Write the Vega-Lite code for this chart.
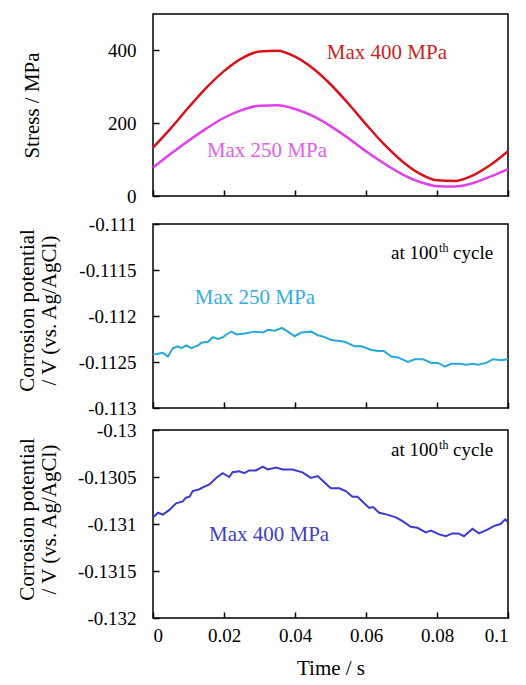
{
  "$schema": "https://vega.github.io/schema/vega-lite/v6.json",
  "background": "white",
  "padding": {"left": 15, "top": 13, "right": 5, "bottom": 5},
  "bounds": "flush",
  "spacing": 28,
  "config": {
    "font": "Times New Roman, Liberation Serif, serif",
    "text": {"font": "Times New Roman, Liberation Serif, serif"},
    "view": {"stroke": "black", "strokeWidth": 1.5},
    "axis": {
      "domain": false, "grid": false, "ticks": true, "tickColor": "black", "tickWidth": 1.5, "tickSize": -6,
      "labelFont": "Times New Roman, Liberation Serif, serif", "labelFontSize": 19, "labelColor": "black", "labelPadding": 23,
      "titleFont": "Times New Roman, Liberation Serif, serif", "titleFontSize": 21, "titleFontWeight": "normal", "titleColor": "black"
    },
    "axisBottom": {"labelPadding": 14}
  },
  "datasets": {
    "stress": [
      {"t":0,"v":133,"s":"400"},{"t":0.005,"v":186,"s":"400"},{"t":0.01,"v":243,"s":"400"},{"t":0.015,"v":297,"s":"400"},
      {"t":0.02,"v":343,"s":"400"},{"t":0.025,"v":378,"s":"400"},{"t":0.03,"v":397,"s":"400"},{"t":0.035,"v":399,"s":"400"},
      {"t":0.04,"v":383,"s":"400"},{"t":0.045,"v":351,"s":"400"},{"t":0.05,"v":307,"s":"400"},{"t":0.055,"v":254,"s":"400"},
      {"t":0.06,"v":197,"s":"400"},{"t":0.065,"v":143,"s":"400"},{"t":0.07,"v":97,"s":"400"},{"t":0.075,"v":62,"s":"400"},
      {"t":0.08,"v":43,"s":"400"},{"t":0.085,"v":41,"s":"400"},{"t":0.09,"v":56,"s":"400"},{"t":0.095,"v":85,"s":"400"},
      {"t":0.1,"v":123,"s":"400"},
      {"t":0,"v":78,"s":"250"},{"t":0.005,"v":116,"s":"250"},{"t":0.01,"v":152,"s":"250"},{"t":0.015,"v":185,"s":"250"},
      {"t":0.02,"v":215,"s":"250"},{"t":0.025,"v":236,"s":"250"},{"t":0.03,"v":248,"s":"250"},{"t":0.035,"v":249,"s":"250"},
      {"t":0.04,"v":239,"s":"250"},{"t":0.045,"v":220,"s":"250"},{"t":0.05,"v":192,"s":"250"},{"t":0.055,"v":159,"s":"250"},
      {"t":0.06,"v":123,"s":"250"},{"t":0.065,"v":90,"s":"250"},{"t":0.07,"v":61,"s":"250"},{"t":0.075,"v":39,"s":"250"},
      {"t":0.08,"v":27,"s":"250"},{"t":0.085,"v":26,"s":"250"},{"t":0.09,"v":35,"s":"250"},{"t":0.095,"v":53,"s":"250"},
      {"t":0.1,"v":74,"s":"250"}
    ],
    "cyan": [
      {"t":0,"v":-0.11242},{"t":0.0014,"v":-0.11241},{"t":0.0028,"v":-0.1124},{"t":0.0042,"v":-0.11244},{"t":0.0056,"v":-0.11235},
      {"t":0.007,"v":-0.11233},{"t":0.008,"v":-0.11235},{"t":0.0094,"v":-0.11232},{"t":0.0108,"v":-0.11235},{"t":0.0127,"v":-0.11232},
      {"t":0.0136,"v":-0.11229},{"t":0.0155,"v":-0.11228},{"t":0.0169,"v":-0.11223},{"t":0.0183,"v":-0.11225},{"t":0.0197,"v":-0.11223},
      {"t":0.0211,"v":-0.11219},{"t":0.0221,"v":-0.11217},{"t":0.0235,"v":-0.1122},{"t":0.0258,"v":-0.11219},{"t":0.0286,"v":-0.11217},
      {"t":0.031,"v":-0.11218},{"t":0.0324,"v":-0.11215},{"t":0.0343,"v":-0.11216},{"t":0.0363,"v":-0.11213},{"t":0.038,"v":-0.11217},
      {"t":0.0399,"v":-0.11222},{"t":0.0418,"v":-0.11218},{"t":0.0446,"v":-0.11217},{"t":0.0465,"v":-0.11221},{"t":0.0484,"v":-0.11223},
      {"t":0.0502,"v":-0.11226},{"t":0.054,"v":-0.11228},{"t":0.0568,"v":-0.11233},{"t":0.0587,"v":-0.11233},{"t":0.0615,"v":-0.11237},
      {"t":0.0634,"v":-0.11238},{"t":0.065,"v":-0.11238},{"t":0.0671,"v":-0.11244},{"t":0.069,"v":-0.11245},{"t":0.0718,"v":-0.1125},
      {"t":0.0737,"v":-0.11247},{"t":0.0761,"v":-0.11247},{"t":0.0784,"v":-0.11251},{"t":0.0803,"v":-0.11251},{"t":0.0822,"v":-0.11255},
      {"t":0.084,"v":-0.11252},{"t":0.0864,"v":-0.11252},{"t":0.0883,"v":-0.11253},{"t":0.0901,"v":-0.11252},{"t":0.0915,"v":-0.11253},
      {"t":0.0939,"v":-0.11251},{"t":0.0958,"v":-0.11247},{"t":0.0981,"v":-0.11248},{"t":0.1,"v":-0.11247}
    ],
    "blue": [
      {"t":0,"v":-0.13093},{"t":0.0014,"v":-0.13088},{"t":0.0028,"v":-0.1309},{"t":0.0046,"v":-0.13085},{"t":0.0065,"v":-0.13078},
      {"t":0.0084,"v":-0.13076},{"t":0.0093,"v":-0.13072},{"t":0.0103,"v":-0.13071},{"t":0.0112,"v":-0.13065},{"t":0.0131,"v":-0.13063},
      {"t":0.014,"v":-0.13061},{"t":0.0159,"v":-0.13058},{"t":0.0178,"v":-0.13051},{"t":0.0196,"v":-0.13046},{"t":0.0215,"v":-0.1305},
      {"t":0.0224,"v":-0.13045},{"t":0.0243,"v":-0.13044},{"t":0.0257,"v":-0.13046},{"t":0.0271,"v":-0.13043},{"t":0.029,"v":-0.13043},
      {"t":0.0309,"v":-0.13039},{"t":0.0323,"v":-0.13042},{"t":0.0347,"v":-0.1304},{"t":0.0365,"v":-0.13042},{"t":0.0393,"v":-0.13042},
      {"t":0.0421,"v":-0.13045},{"t":0.0445,"v":-0.13051},{"t":0.0464,"v":-0.13049},{"t":0.0478,"v":-0.13054},{"t":0.0501,"v":-0.13062},
      {"t":0.0525,"v":-0.13062},{"t":0.0543,"v":-0.13065},{"t":0.0562,"v":-0.13071},{"t":0.0576,"v":-0.13071},{"t":0.0595,"v":-0.13078},
      {"t":0.0609,"v":-0.13083},{"t":0.062,"v":-0.13082},{"t":0.0637,"v":-0.13088},{"t":0.066,"v":-0.1309},{"t":0.0684,"v":-0.13093},
      {"t":0.0703,"v":-0.13097},{"t":0.0726,"v":-0.13103},{"t":0.0745,"v":-0.13104},{"t":0.0768,"v":-0.13109},{"t":0.0783,"v":-0.13107},
      {"t":0.0806,"v":-0.13111},{"t":0.0825,"v":-0.13113},{"t":0.0843,"v":-0.1311},{"t":0.086,"v":-0.1311},{"t":0.0876,"v":-0.13113},
      {"t":0.09,"v":-0.13105},{"t":0.0918,"v":-0.1311},{"t":0.0942,"v":-0.13106},{"t":0.0961,"v":-0.13102},{"t":0.0979,"v":-0.131},
      {"t":0.0992,"v":-0.13095},{"t":0.1,"v":-0.13098}
    ]
  },
  "vconcat": [
    {
      "width": 355, "height": 182,
      "encoding": {
        "x": {"field": "t", "type": "quantitative", "scale": {"domain": [0, 0.1], "nice": false, "zero": false},
              "axis": {"values": [0, 0.02, 0.04, 0.06, 0.08, 0.1], "labels": false, "title": null}},
        "y": {"field": "v", "type": "quantitative", "scale": {"domain": [0, 500], "nice": false, "zero": false},
              "axis": {"values": [0, 200, 400], "title": "Stress / MPa", "titleX": -115, "titleY": 91, "titleBaseline": "alphabetic"}}
      },
      "layer": [
        {"data": {"name": "stress"}, "mark": {"type": "line", "strokeWidth": 2.5, "interpolate": "monotone"},
         "encoding": {"color": {"field": "s", "type": "nominal", "scale": {"domain": ["400", "250"], "range": ["#d7141e", "#e040e8"]}, "legend": null}}},
        {"data": {"values": [{"t": 0.0659, "v": 377, "label": "Max 400 MPa"}]},
         "mark": {"type": "text", "fontSize": 21, "color": "#cc1f1f", "align": "center", "baseline": "alphabetic"},
         "encoding": {"text": {"field": "label"}}},
        {"data": {"values": [{"t": 0.0321, "v": 108, "label": "Max 250 MPa"}]},
         "mark": {"type": "text", "fontSize": 21, "color": "#e060e6", "align": "center", "baseline": "alphabetic"},
         "encoding": {"text": {"field": "label"}}}
      ]
    },
    {
      "bounds": "flush",
      "spacing": 22,
      "vconcat": [
        {
          "width": 355, "height": 184,
          "encoding": {
            "x": {"field": "t", "type": "quantitative", "scale": {"domain": [0, 0.1], "nice": false, "zero": false},
                  "axis": {"values": [0, 0.02, 0.04, 0.06, 0.08, 0.1], "labels": false, "title": null}},
            "y": {"field": "v", "type": "quantitative", "scale": {"domain": [-0.113, -0.111], "nice": false, "zero": false},
                  "axis": {"values": [-0.113, -0.1125, -0.112, -0.1115, -0.111],
                           "labelExpr": "replace(format(datum.value, '.4~f'), '\u2212', '-')",
                           "title": ["Corrosion potential", "/ V (vs. Ag/AgCl)"], "titleLineHeight": 22,
                           "titleX": -120, "titleY": 86, "titleBaseline": "alphabetic"}}
          },
          "layer": [
            {"data": {"name": "cyan"}, "mark": {"type": "line", "strokeWidth": 2, "color": "#27a9d8"}},
            {"data": {"values": [{"t": 0.0287, "v": -0.11187, "label": "Max 250 MPa"}]},
             "mark": {"type": "text", "fontSize": 21, "color": "#35ade0", "align": "center", "baseline": "alphabetic"},
             "encoding": {"text": {"field": "label"}}},
            {"data": {"values": [{"t": 0.0803, "v": -0.11138, "label": "at 100"}]},
             "mark": {"type": "text", "fontSize": 19, "color": "black", "align": "right", "baseline": "alphabetic"},
             "encoding": {"text": {"field": "label"}}},
            {"data": {"values": [{"t": 0.0803, "v": -0.11138, "label": "th"}]},
             "mark": {"type": "text", "fontSize": 12, "color": "black", "align": "left", "baseline": "alphabetic", "dx": 1, "dy": -7},
             "encoding": {"text": {"field": "label"}}},
            {"data": {"values": [{"t": 0.0803, "v": -0.11138, "label": "cycle"}]},
             "mark": {"type": "text", "fontSize": 19, "color": "black", "align": "left", "baseline": "alphabetic", "dx": 15},
             "encoding": {"text": {"field": "label"}}}
          ]
        },
        {
          "width": 355, "height": 188,
          "encoding": {
            "x": {"field": "t", "type": "quantitative", "scale": {"domain": [0, 0.1], "nice": false, "zero": false},
                  "axis": {"values": [0, 0.02, 0.04, 0.06, 0.08, 0.1], "format": ".2~f", "title": "Time / s", "titleY": 39, "titleBaseline": "top"}},
            "y": {"field": "v", "type": "quantitative", "scale": {"domain": [-0.132, -0.13], "nice": false, "zero": false},
                  "axis": {"values": [-0.132, -0.1315, -0.131, -0.1305, -0.13],
                           "labelExpr": "replace(format(datum.value, '.4~f'), '\u2212', '-')",
                           "title": ["Corrosion potential", "/ V (vs. Ag/AgCl)"], "titleLineHeight": 22,
                           "titleX": -120, "titleY": 89, "titleBaseline": "alphabetic"}}
          },
          "layer": [
            {"data": {"name": "blue"}, "mark": {"type": "line", "strokeWidth": 2, "color": "#3b3bd0"}},
            {"data": {"values": [{"t": 0.0327, "v": -0.13118, "label": "Max 400 MPa"}]},
             "mark": {"type": "text", "fontSize": 21, "color": "#4040c8", "align": "center", "baseline": "alphabetic"},
             "encoding": {"text": {"field": "label"}}},
            {"data": {"values": [{"t": 0.0803, "v": -0.13028, "label": "at 100"}]},
             "mark": {"type": "text", "fontSize": 19, "color": "black", "align": "right", "baseline": "alphabetic"},
             "encoding": {"text": {"field": "label"}}},
            {"data": {"values": [{"t": 0.0803, "v": -0.13028, "label": "th"}]},
             "mark": {"type": "text", "fontSize": 12, "color": "black", "align": "left", "baseline": "alphabetic", "dx": 1, "dy": -7},
             "encoding": {"text": {"field": "label"}}},
            {"data": {"values": [{"t": 0.0803, "v": -0.13028, "label": "cycle"}]},
             "mark": {"type": "text", "fontSize": 19, "color": "black", "align": "left", "baseline": "alphabetic", "dx": 15},
             "encoding": {"text": {"field": "label"}}}
          ]
        }
      ]
    }
  ]
}
